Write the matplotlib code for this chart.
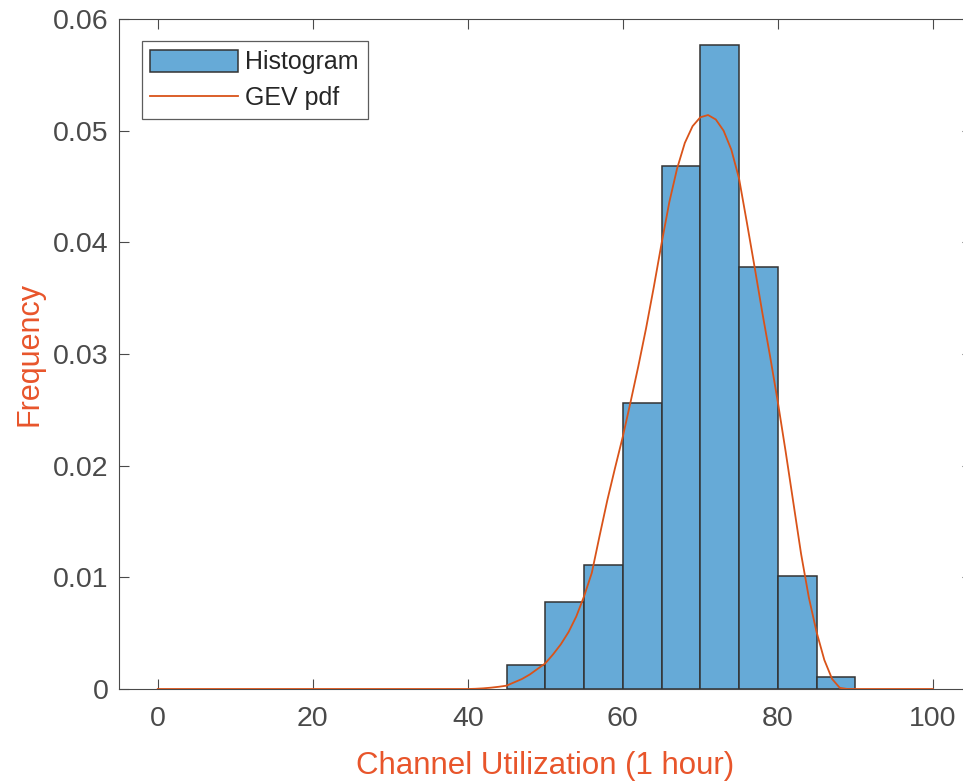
import matplotlib
matplotlib.use("Agg")
import matplotlib.pyplot as plt
import numpy as np

# ---- data ----
bin_edges = [45, 50, 55, 60, 65, 70, 75, 80, 85, 90]
bin_heights = [0.00215, 0.0078, 0.0111, 0.0256, 0.0468, 0.0577, 0.0378, 0.0101, 0.0011]

pdf_x = [0, 40, 41, 42, 43, 44, 45, 46, 47, 48, 49, 50, 51, 52, 53, 54, 55, 56, 57, 58, 59,
         60, 61, 62, 63, 64, 65, 66, 67, 68, 69, 70, 71, 72, 73, 74, 75, 76, 77, 78, 79,
         80, 81, 82, 83, 84, 85, 86, 87, 88, 89, 100]
pdf_y = [0.0, 0.0, 0.00002, 0.00006, 0.00012, 0.0002, 0.0003, 0.0006, 0.0009, 0.0013, 0.0018,
         0.0023, 0.0031, 0.0040, 0.0051, 0.0065, 0.0083, 0.0104, 0.0137, 0.0169, 0.0198,
         0.0226, 0.0257, 0.0289, 0.0323, 0.0360, 0.0399, 0.0436, 0.0466, 0.0489, 0.0504,
         0.0512, 0.0514, 0.0510, 0.0500, 0.0483, 0.0457, 0.0418, 0.0378, 0.0337, 0.0298,
         0.0257, 0.0213, 0.0167, 0.0121, 0.0082, 0.0051, 0.0026, 0.0009, 0.0001, 0.0, 0.0]

x_ticks = [0, 20, 40, 60, 80, 100]
x_ticklabels = ["0", "20", "40", "60", "80", "100"]
y_ticks = [0, 0.01, 0.02, 0.03, 0.04, 0.05, 0.06]
y_ticklabels = ["0", "0.01", "0.02", "0.03", "0.04", "0.05", "0.06"]

labels = ["Histogram", "GEV pdf"]
x_label = "Channel Utilization (1 hour)"
y_label = "Frequency"

# ---- style ----
plt.rcParams['font.family'] = ['Liberation Sans', 'DejaVu Sans']
bar_color = '#66aad7'
edge_color = '#333333'
line_color = '#d95319'
label_color = '#e8552b'
tick_color = '#4a4a4a'

W, H = 963, 781
fig = plt.figure(figsize=(W / 100, H / 100), dpi=100)
ax_left, ax_right, ax_top, ax_bottom = 119.0, 971.6, 19.0, 689.0
ax = fig.add_axes([ax_left / W, 1 - ax_bottom / H, (ax_right - ax_left) / W, (ax_bottom - ax_top) / H])

widths = np.diff(bin_edges)
bars = ax.bar(bin_edges[:-1], bin_heights, width=widths, align='edge', color=bar_color,
              edgecolor=edge_color, linewidth=1.1, zorder=2)
line, = ax.plot(pdf_x, pdf_y, color=line_color, linewidth=1.3, zorder=3)

ax.set_xlim(-5, 105)
ax.set_ylim(0, 0.06)
ax.set_xticks(x_ticks)
ax.set_xticklabels(x_ticklabels)
ax.set_yticks(y_ticks)
ax.set_yticklabels(y_ticklabels)

ax.tick_params(direction='in', length=7, width=0.8, colors=tick_color, labelsize=20.5,
               top=True, right=True)
ax.tick_params(axis='x', pad=12.5)
ax.tick_params(axis='y', pad=7.5)
for s in ax.spines.values():
    s.set_color(tick_color)
    s.set_linewidth(0.8)

ax.set_xlabel(x_label, color=label_color, fontsize=22.5, labelpad=13.5)
ax.set_ylabel(y_label, color=label_color, fontsize=22, labelpad=6)

leg = ax.legend([bars, line], labels, loc='upper left', bbox_to_anchor=(141.7 / W, 1 - 41.0 / H),
                bbox_transform=fig.transFigure, borderaxespad=0, fontsize=18,
                frameon=True, fancybox=False, handlelength=3.5, handleheight=1.0,
                handletextpad=0.3, borderpad=0.35, labelspacing=0.45)
leg.get_frame().set_edgecolor('#333333')
leg.get_frame().set_linewidth(0.9)
for t in leg.get_texts():
    t.set_color('#262626')

fig.savefig("out.png", dpi=100)
